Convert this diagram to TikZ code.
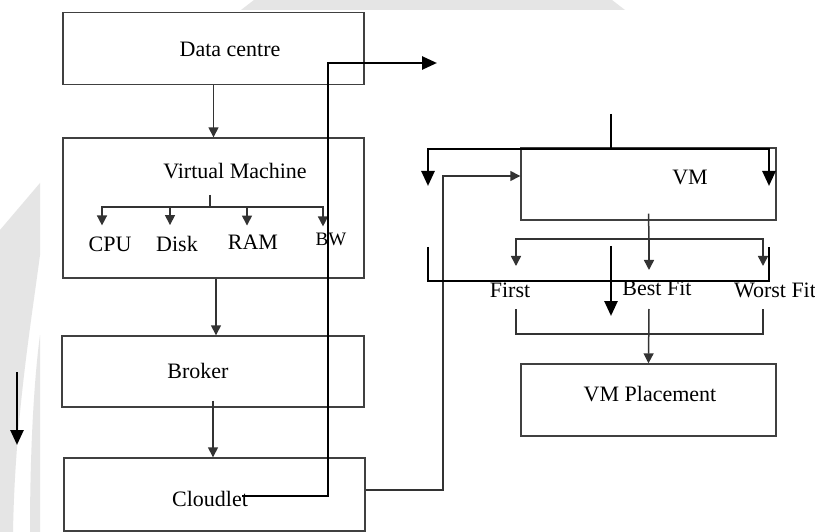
\documentclass[tikz,border=0pt]{standalone}
\usepackage{fontspec}
\setmainfont{Liberation Serif}
\usetikzlibrary{arrows.meta}
\begin{document}
\begin{tikzpicture}[x=1pt,y=-1pt,
  box/.style={draw=black!75,line width=1.4pt,inner sep=0pt},
  txt/.style={inner sep=0pt,font=\fontsize{22}{25}\selectfont},
  smalltxt/.style={inner sep=0pt,font=\fontsize{19}{22}\selectfont},
  thinln/.style={draw=black!80,line width=1.5pt},
  thinarr/.style={thinln,-{Triangle[width=10pt,length=10pt]}},
  thickln/.style={draw=black,line width=2.6pt,line join=miter},
  thickarr/.style={thickln,-{Triangle[width=13pt,length=15pt]}},
  wm/.style={fill=black!10,draw=none}]
\useasboundingbox (0,0) rectangle (815,532);
\fill[white] (0,0) rectangle (815,532);
% background watermark
\fill[wm] (254,0) -- (612,0) -- (625,10) -- (241,10) -- cycle;
\fill[wm] (0,230) -- (40,183) -- (40,255) .. controls (30,330) and (15,420) .. (13,532) -- (0,532) -- cycle;
\fill[wm] (40,335) -- (40,532) -- (30,532) .. controls (30,450) and (34,380) .. (40,335) -- cycle;

% left column boxes
\node[box,minimum width=301pt,minimum height=72pt] (dcbox) at (213.5,48.5) {};
\node[txt] (dc) at (230,49) {Data centre};
\node[box,minimum width=301pt,minimum height=140pt] (vmmbox) at (213.5,208) {};
\node[txt] (vmm) at (235,171) {Virtual Machine};
\node[txt] (cpu) at (110,244) {CPU};
\node[txt] (disk) at (177,244) {Disk};
\node[txt] (ram) at (253,242) {RAM};
\node[smalltxt] (bw) at (331,239) {BW};
\node[box,minimum width=302pt,minimum height=71pt] (brokerbox) at (213,371.5) {};
\node[txt] (broker) at (198,371) {Broker};
\node[box,minimum width=301pt,minimum height=73pt] (cloudletbox) at (214.5,494.5) {};
\node[txt] (cloudlet) at (210,499) {Cloudlet};

% right column boxes
\node[box,minimum width=255pt,minimum height=72pt] (vmbox) at (648.5,184) {};
\node[txt] (vm) at (690,177) {VM};
\node[txt] (first) at (510,290) {First};
\node[txt] (best) at (657,288) {Best Fit};
\node[txt] (worst) at (775,290) {Worst Fit};
\node[box,minimum width=255pt,minimum height=72pt] (vpbox) at (648.5,400) {};
\node[txt] (vp) at (650,394) {VM Placement};

% left column connectors
\draw[thinarr] (dcbox.south) -- (vmmbox.north);
\coordinate (vmmj) at (210,207);
\draw[thinln] ([yshift=-16pt]vmm.south -| vmmj) -- (vmmj);
\draw[thinarr] (vmmj) -| ([yshift=11pt]cpu.north -| 102,0);
\draw[thinarr] (vmmj) -| ([yshift=11pt]disk.north -| 170,0);
\draw[thinarr] (vmmj) -| ([yshift=9pt]ram.north -| 247,0);
\draw[thinarr] (vmmj) -| ([yshift=6pt]bw.north -| 323,0);
\draw[thinarr] ([xshift=2.5pt]vmmbox.south) -- ([xshift=3pt]brokerbox.north);
\draw[thinarr] ([yshift=7pt]brokerbox.south) -- (brokerbox.south |- cloudletbox.north);

% thick loop from Cloudlet
\coordinate (tstart) at (242,496);
\coordinate (tend) at (437,63);
\draw[thickarr] (tstart) -- (328,496) -- (328,63) -- (tend);

% thin line Cloudlet -> VM
\draw[thinarr] ([yshift=4.5pt]cloudletbox.east) -- (443,490) -- (443,176) -- ([yshift=8pt]vmbox.west);

% free thick arrow at left
\coordinate (la1) at (17,372);
\coordinate (la2) at (17,445);
\draw[thickarr] (la1) -- (la2);

% thick lines around VM
\coordinate (vtop) at (611,114);
\coordinate (vj) at (611,149);
\coordinate (vl) at (428,186);
\coordinate (vr) at (769,186);
\draw[thickln] (vtop) -- (vj);
\draw[thickarr] (vj) -| (vl);
\draw[thickarr] (vj) -| (vr);

% thin VM children
\coordinate (cj) at (649,239);
\draw[thinln] ([yshift=7pt]vmbox.south) -- (cj);
\draw[thinarr] (cj) -| (516,266);
\draw[thinarr] (cj) -- (649,270);
\draw[thinarr] (cj) -| (763,266);

% thick bracket and arrow
\coordinate (b1) at (428,247);
\coordinate (b2) at (769,247);
\draw[thickln] (b1) |- (769,281) -- (b2);
\coordinate (m1) at (611,246);
\coordinate (m2) at (611,316);
\draw[thickarr] (m1) -- (m2);

% bottom thin bracket
\coordinate (p1) at (516,309);
\coordinate (p2) at (763,309);
\draw[thinln] (p1) |- (763,334) -- (p2);
\draw[thinarr] (649,309) -- (vpbox.north);
\end{tikzpicture}
\end{document}
